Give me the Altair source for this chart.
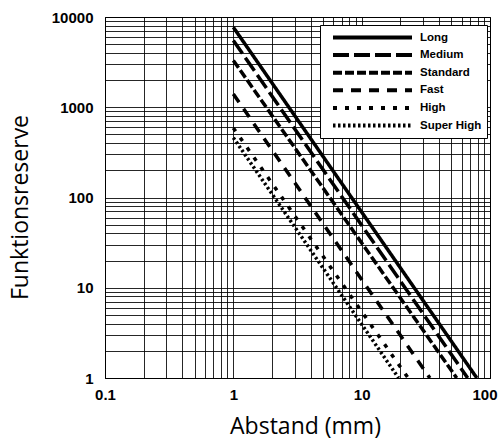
import altair as alt
import pandas as pd

# --- data ---
series = ["Long", "Medium", "Standard", "Fast", "High", "Super High"]
reserve_at_1mm = [7700, 5500, 3300, 1400, 590, 460]      # Funktionsreserve at 1 mm
distance_at_reserve_1 = [79, 67, 55, 34, 23, 19.4]        # Abstand (mm) where reserve reaches 1
dash_patterns = [[1, 0], [16, 5], [9, 3], [10, 8], [4, 8], [2.5, 2.5]]

x_grid_values = [m * 10.0 ** e for e in (-1, 0, 1) for m in range(1, 10)] + [100]
x_grid_values = [round(v, 6) for v in x_grid_values]
y_grid_values = [m * 10 ** e for e in (0, 1, 2, 3) for m in range(1, 10)] + [10000]
x_label_values = [0.1, 1, 10, 100]
y_label_values = [1, 10, 100, 1000, 10000]

rows = []
for s, r0, d1 in zip(series, reserve_at_1mm, distance_at_reserve_1):
    rows.append({"series": s, "distance": 1.0, "reserve": r0})
    rows.append({"series": s, "distance": d1, "reserve": 1.0})
df = pd.DataFrame(rows)

tick_font = "Liberation Sans, Arial"
title_font = "Open Sans"

x_label_expr = "indexof(%s, datum.value) >= 0 ? format(datum.value, '~g') : ''" % str(x_label_values)
y_label_expr = "indexof(%s, datum.value) >= 0 ? format(datum.value, '~g') : ''" % str(y_label_values)

chart = (
    alt.Chart(df)
    .mark_line(strokeWidth=3.5, color="black", strokeCap="butt")
    .encode(
        x=alt.X(
            "distance:Q",
            scale=alt.Scale(type="log", domain=[0.1, 100], nice=False),
            axis=alt.Axis(
                title="Abstand (mm)",
                values=x_grid_values,
                labelExpr=x_label_expr,
                labelOverlap=False,
                labelBound=False,
                labelFlush=False,
                labelAlign={"condition": {"test": "datum.value >= 100", "value": "right"}, "value": "center"},
                labelOffset={"condition": {"test": "datum.value >= 100", "value": 7}, "value": 0},
                ticks=False,
                tickSize=0,
                labelPadding=9,
                titlePadding=13,
                titleFontSize=23,
                titleX=200,
            ),
        ),
        y=alt.Y(
            "reserve:Q",
            scale=alt.Scale(type="log", domain=[1, 10000], nice=False),
            axis=alt.Axis(
                title="Funktionsreserve",
                values=y_grid_values,
                labelExpr=y_label_expr,
                labelOverlap=False,
                labelBound=False,
                labelFlush=False,
                ticks=False,
                tickSize=0,
                labelPadding=12,
                titlePadding=19,
                titleFontSize=23,
                titleY=190,
            ),
        ),
        strokeDash=alt.StrokeDash(
            "series:N",
            scale=alt.Scale(domain=series, range=dash_patterns),
            sort=series,
            legend=alt.Legend(
                title=None,
                orient="none",
                legendX=215,
                legendY=8,
                symbolType="stroke",
                symbolSize=6241,
                symbolStrokeWidth=4,
                symbolStrokeColor="black",
                symbolOffset=6,
                clipHeight=15,
                rowPadding=2.6,
                labelFont=tick_font,
                labelFontWeight="bold",
                labelFontSize=11.5,
                labelColor="black",
                labelAlign="left",
                labelOffset=6,
                fillColor="white",
                strokeColor="black",
                padding=5,
            ),
        ),
        detail="series:N",
        order="distance:Q",
    )
    .properties(
        width=385,
        height=361,
        autosize=alt.AutoSizeParams(type="none"),
        padding={"left": 105, "top": 17, "right": 10, "bottom": 61},
    )
    .configure_view(stroke="black", strokeWidth=1)
    .configure_axis(
        grid=True,
        gridColor="black",
        gridOpacity=0.85,
        gridWidth=1,
        domainColor="black",
        domainWidth=1,
        labelFont=tick_font,
        labelFontWeight="bold",
        labelFontSize=15,
        labelColor="black",
        titleFont=title_font,
        titleFontWeight="normal",
        titleColor="black",
    )
)

chart.save("out.html", embed_options={"renderer": "svg", "actions": False})
